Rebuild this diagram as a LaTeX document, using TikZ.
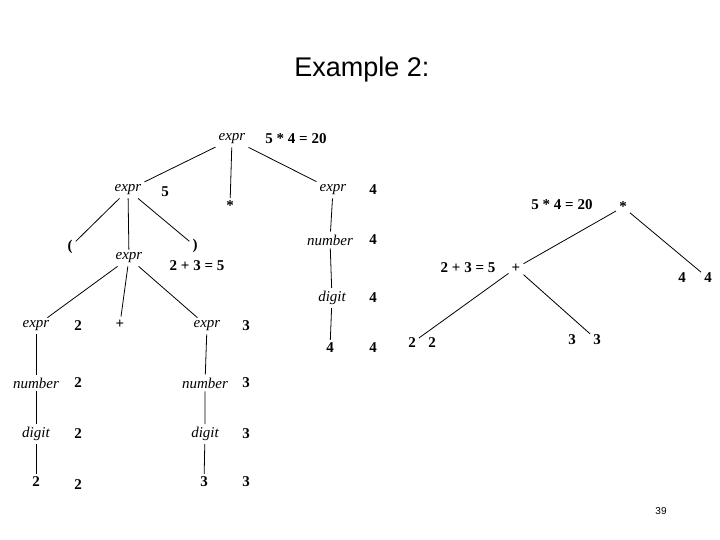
\documentclass[tikz,border=0pt]{standalone}
\usepackage{fontspec}
\setmainfont{Liberation Serif}
\newfontfamily\titlefont{Liberation Sans}
\begin{document}
\begin{tikzpicture}[x=1pt,y=-1pt,
  nt/.style={font=\fontsize{15}{15}\selectfont\itshape, inner sep=3pt},
  val/.style={font=\fontsize{15}{15}\selectfont\bfseries, inner sep=3pt},
  edge/.style={draw, line width=0.8pt}]
\useasboundingbox (0,0) rectangle (720,540);
\node[font=\titlefont\fontsize{27}{27}\selectfont] (title) at (362,70) {Example 2:};
\node[font=\titlefont\fontsize{10}{10}\selectfont] (page) at (661,511) {39};

% parse tree with values
\node[nt] (root) at (232,139) {expr};
\node[val] at (296,139) {5 * 4 = 20};
\node[nt] (e1) at (128,190) {expr}; \node[val] at (165,192) {5};
\node[val] (star) at (230,206) {*};
\node[nt] (e2) at (333,190) {expr}; \node[val] at (373,190) {4};
\node[val] (lp) at (70,247) {(};
\node[nt] (e3) at (129,258) {expr};
\node[val] (rp) at (195,246) {)};
\node[val] at (197,266) {2 + 3 = 5};
\node[nt] (n4) at (330,240) {number}; \node[val] at (373,240) {4};
\node[nt] (d4) at (332,298) {digit}; \node[val] at (373,298) {4};
\node[val] (t4) at (330,348) {4}; \node[val] at (373,348) {4};
\node[nt] (e4) at (36,326) {expr}; \node[val] at (78,326) {2};
\node[val] (plus) at (120,324) {+};
\node[nt] (e5) at (207,326) {expr}; \node[val] at (246,326) {3};
\node[nt] (n2) at (36,383) {number}; \node[val] at (78,383) {2};
\node[nt] (d2) at (36,434) {digit}; \node[val] at (78,434) {2};
\node[val] (t2) at (36,482) {2}; \node[val] at (78,485) {2};
\node[nt] (n3) at (205,383) {number}; \node[val] at (246,383) {3};
\node[nt] (d3) at (205,434) {digit}; \node[val] at (246,434) {3};
\node[val] (t3) at (204,482) {3}; \node[val] at (246,482) {3};

\path[edge] (root) -- (e1) (root) -- (star) (root) -- (e2);
\path[edge] (e1) -- (lp) (e1) -- (e3) (e1) -- (rp);
\path[edge] (e2) -- (n4) -- (d4) -- (t4);
\path[edge] (e3) -- (e4) (e3) -- (plus) (e3) -- (e5);
\path[edge] (e4) -- (n2) -- (d2) -- (t2);
\path[edge] (e5) -- (n3) -- (d3) -- (t3);

% abstract syntax tree
\node[val] at (562,205) {5 * 4 = 20};
\node[val] (mul) at (623,207) {*};
\node[val] at (468,268) {2 + 3 = 5};
\node[val] (add) at (516,268) {+};
\node[val] at (682,278) {4}; \node[val] (a4) at (708,278) {4};
\node[val] (a2) at (412,343) {2}; \node[val] at (432,343) {2};
\node[val] at (572,340) {3}; \node[val] (a3) at (597,340) {3};
\path[edge] (mul) -- (add) (mul) -- (a4);
\path[edge] (add) -- (a2) (add) -- (a3);
\end{tikzpicture}
\end{document}
